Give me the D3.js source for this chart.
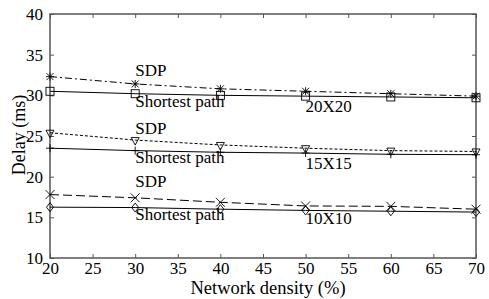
<!DOCTYPE html>
<html>
<head>
<meta charset="utf-8">
<script src="https://cdn.jsdelivr.net/npm/d3@7"></script>
<style>
body{margin:0;background:#fff;}
svg text{font-family:'Liberation Serif', serif;fill:#000;}
</style>
</head>
<body>
<div id="canvas"></div>
<script>
var density = [20, 30, 40, 50, 60, 70];
var xTicks = [20, 25, 30, 35, 40, 45, 50, 55, 60, 65, 70];
var yTicks = [10, 15, 20, 25, 30, 35, 40];

var sdp20 = [32.3, 31.4, 30.8, 30.5, 30.2, 29.9];
var sp20  = [30.5, 30.2, 30.0, 29.9, 29.8, 29.7];
var sdp15 = [25.4, 24.5, 23.9, 23.5, 23.2, 23.1];
var sp15  = [23.5, 23.2, 23.0, 22.9, 22.75, 22.7];
var sdp10 = [17.8, 17.4, 16.85, 16.4, 16.35, 16.0];
var sp10  = [16.25, 16.2, 16.0, 15.85, 15.75, 15.65];

var series = [
    {vals: sdp20, dash: '7,3,2,3', mark: 'star'},
    {vals: sp20, dash: null, mark: 'square'},
    {vals: sdp15, dash: '3,2', mark: 'tri'},
    {vals: sp15, dash: null, mark: 'plus'},
    {vals: sdp10, dash: '9,4', mark: 'cross'},
    {vals: sp10, dash: null, mark: 'diamond'}
];

// label text, x value, y value (data units)
var labels = [
    {t: 'SDP', x: 30, y: 32.4},
    {t: 'Shortest path', x: 30, y: 28.6},
    {t: '20X20', x: 50, y: 28.0},
    {t: 'SDP', x: 30, y: 25.2},
    {t: 'Shortest path', x: 30, y: 21.7},
    {t: '15X15', x: 50, y: 21.0},
    {t: 'SDP', x: 30, y: 18.7},
    {t: 'Shortest path', x: 30, y: 14.7},
    {t: '10X10', x: 50, y: 14.2}
];

var m = {t:14, r:13, b:41, l:50},
    w = 489 - m.l - m.r,
    h = 299 - m.t - m.b;

var svg = d3.select('#canvas').append('svg')
    .attr('width', 489).attr('height', 299);
var plot = svg.append('g').attr('transform', 'translate(' + m.l + ',' + m.t + ')');

var x = d3.scaleLinear().domain([20, 70]).range([0, w]);
var y = d3.scaleLinear().domain([10, 40]).range([h, 0]);

var axCol = '#555';
function styleAxis(g){
    g.attr('font-family', null).attr('font-size', null);
    g.select('.domain').remove();
    g.selectAll('line').attr('stroke', axCol);
    g.selectAll('text').style('font-size', '17px');
}

plot.append('g').attr('transform', 'translate(0,' + h + ')')
    .call(d3.axisBottom(x).tickValues(xTicks).tickSize(-4).tickPadding(4))
    .call(styleAxis);
plot.append('g')
    .call(d3.axisTop(x).tickValues(xTicks).tickSize(-4).tickFormat(''))
    .call(styleAxis);
plot.append('g')
    .call(d3.axisLeft(y).tickValues(yTicks).tickSize(-4).tickPadding(7))
    .call(styleAxis);
plot.append('g').attr('transform', 'translate(' + w + ',0)')
    .call(d3.axisRight(y).tickValues(yTicks).tickSize(-4).tickFormat(''))
    .call(styleAxis);

plot.append('rect').attr('width', w).attr('height', h)
    .attr('fill', 'none').attr('stroke', axCol).attr('stroke-width', 1.5);

var line = d3.line().x(function(d, i){return x(density[i]);}).y(function(d){return y(d);});

series.forEach(function(s){
    plot.append('path').datum(s.vals)
        .attr('d', line)
        .attr('fill', 'none').attr('stroke', '#000').attr('stroke-width', 1)
        .attr('stroke-dasharray', s.dash);
    var g = plot.selectAll(null).data(s.vals).enter().append('g')
        .attr('transform', function(d, i){return 'translate(' + x(density[i]) + ',' + y(d) + ')';})
        .attr('fill', 'none').attr('stroke', '#000').attr('stroke-width', 0.9);
    var r = 4;
    if (s.mark === 'square') {
        g.append('rect').attr('x', -r).attr('y', -r).attr('width', 2*r).attr('height', 2*r);
    } else if (s.mark === 'diamond') {
        g.append('path').attr('d', 'M0,-4.5L3.5,0L0,4.5L-3.5,0Z');
    } else if (s.mark === 'tri') {
        g.append('path').attr('d', 'M-4,-2.5L4,-2.5L0,5Z');
    } else if (s.mark === 'plus') {
        g.append('path').attr('d', 'M-4,0L4,0M0,-4L0,4');
    } else if (s.mark === 'cross') {
        g.append('path').attr('d', 'M-4.5,-4.5L4.5,4.5M-4.5,4.5L4.5,-4.5');
    } else if (s.mark === 'star') {
        g.append('path').attr('d', 'M-4,0L4,0M0,-4L0,4M-3.5,-3.5L3.5,3.5M-3.5,3.5L3.5,-3.5');
    }
});

plot.selectAll('.lbl').data(labels).enter().append('text').attr('class', 'lbl')
    .attr('x', function(d){return x(d.x);})
    .attr('y', function(d){return y(d.y);})
    .style('font-size', '17px')
    .text(function(d){return d.t;});

svg.append('text').attr('x', 268).attr('y', 294)
    .attr('text-anchor', 'middle').style('font-size', '18.5px')
    .text('Network density (%)');
svg.append('text').attr('transform', 'translate(25,' + 135 + ') rotate(-90)')
    .attr('text-anchor', 'middle').style('font-size', '18px')
    .text('Delay (ms)');
</script>
</body>
</html>
